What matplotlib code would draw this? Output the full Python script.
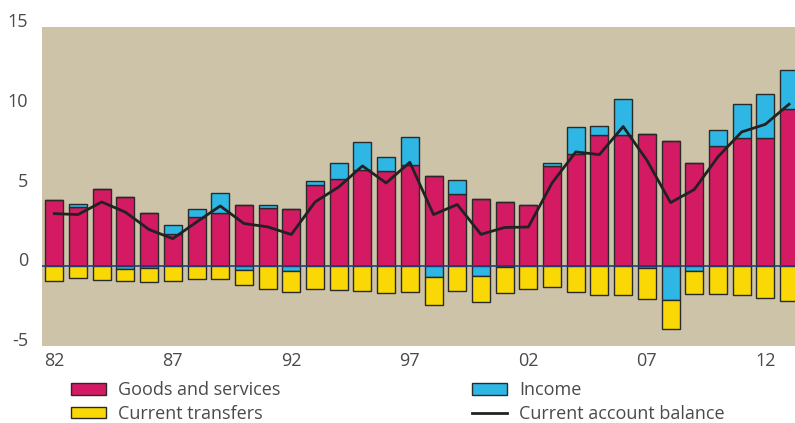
import numpy as np
import matplotlib
matplotlib.use("Agg")
import matplotlib.pyplot as plt
from matplotlib.patches import Patch
from matplotlib.lines import Line2D

plt.rcParams['font.family'] = ['Open Sans', 'DejaVu Sans']
plt.rcParams['axes.unicode_minus'] = False

# years 1982..2013
years = np.arange(1982, 2014)
goods = [4.18, 3.74, 4.85, 4.33, 3.34, 2.0, 3.09, 3.34, 3.87, 3.66,
         3.57, 5.12, 5.48, 6.06, 5.96, 6.33, 5.66, 4.56, 4.22, 4.03,
         3.86, 6.29, 7.02, 8.21, 8.21, 8.3, 7.88, 6.46, 7.57, 8.04,
         8.03, 9.89]
income = [0.0, 0.19, 0.0, -0.17, -0.1, 0.6, 0.48, 1.26, -0.21, 0.15,
          -0.29, 0.25, 1.02, 1.73, 0.87, 1.78, -0.67, 0.83, -0.58, -0.05,
          0.0, 0.17, 1.74, 0.59, 2.3, -0.13, -2.09, -0.29, 0.96, 2.16,
          2.8, 2.44]
transfers = [-0.92, -0.71, -0.86, -0.77, -0.9, -0.92, -0.79, -0.83, -0.98, -1.4,
             -1.32, -1.4, -1.52, -1.55, -1.65, -1.59, -1.78, -1.57, -1.66, -1.6,
             -1.42, -1.27, -1.63, -1.8, -1.78, -1.9, -1.84, -1.42, -1.71, -1.8,
             -1.96, -2.19]
balance = [3.30, 3.24, 4.03, 3.39, 2.30, 1.73, 2.77, 3.78, 2.68, 2.47,
           1.99, 4.03, 4.97, 6.29, 5.22, 6.52, 3.24, 3.87, 2.0, 2.43,
           2.46, 5.22, 7.17, 7.0, 8.76, 6.65, 3.99, 4.81, 6.86, 8.42,
           8.9, 10.16]
xtick_years = [1982, 1987, 1992, 1997, 2002, 2007, 2012]
xtick_labels = ['82', '87', '92', '97', '02', '07', '12']

c_goods = '#d31a63'
c_income = '#2eb7e4'
c_transfers = '#f9d806'
c_bg = '#ccc3a8'
edge = '#2a2a2a'
txt = '#4a4a4a'

goods = np.array(goods)
income = np.array(income)
transfers = np.array(transfers)

fig = plt.figure(figsize=(7.95, 4.23), dpi=100)
ax = fig.add_axes([42 / 795, 1 - 346 / 423, 753 / 795, 319 / 423])
ax.set_facecolor(c_bg)

w = 0.76
inc_pos = np.where(income > 0, income, 0)
inc_neg = np.where(income < 0, income, 0)
ax.bar(years, goods, w, color=c_goods, edgecolor=edge, linewidth=1.0)
ax.bar(years, inc_pos, w, bottom=goods, color=c_income, edgecolor=edge, linewidth=1.0)
ax.bar(years, inc_neg, w, color=c_income, edgecolor=edge, linewidth=1.0)
ax.bar(years, transfers, w, bottom=inc_neg, color=c_transfers, edgecolor=edge, linewidth=1.0)
ax.axhline(0, color='#1f3f80', linewidth=1.2)
ax.plot(years, balance, color='#222222', linewidth=2.0)

ax.set_xlim(1981.48, 2013.25)
ax.set_ylim(-5, 15)
ax.set_yticks([-5, 0, 5, 10, 15])
ax.set_xticks(xtick_years)
ax.set_xticklabels(xtick_labels)
for s in ax.spines.values():
    s.set_visible(False)
ax.tick_params(axis='both', length=0, labelsize=13, colors=txt)
ax.tick_params(axis='y', pad=10)
for lab in ax.get_yticklabels():
    lab.set_verticalalignment('baseline')
ax.tick_params(axis='x', pad=4)

handles = [Patch(facecolor=c_goods, edgecolor=edge),
           Patch(facecolor=c_transfers, edgecolor=edge),
           Patch(facecolor=c_income, edgecolor=edge),
           Line2D([], [], color='#222222', linewidth=2)]
labels = ['Goods and services', 'Current transfers', 'Income', 'Current account balance']
leg = fig.legend(handles, labels, ncol=2, loc='upper left', bbox_to_anchor=(64 / 795, 1 - 374 / 423),
                 frameon=False, fontsize=13, handlelength=1.95, handleheight=0.6,
                 columnspacing=10.6, labelspacing=0.3, handletextpad=0.65, borderaxespad=0)
for t in leg.get_texts():
    t.set_color(txt)

fig.savefig('out.png', dpi=100)
